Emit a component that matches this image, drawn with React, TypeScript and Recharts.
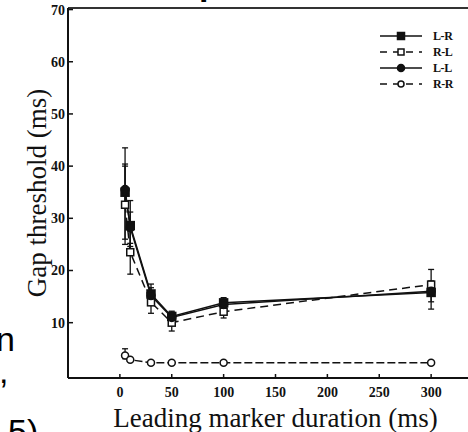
import React from "react";
import { LineChart, Line, XAxis, YAxis, ErrorBar, ReferenceLine } from "recharts";

// leading marker durations (ms)
const durations = [5, 10, 30, 50, 100, 300];

// gap thresholds (ms) per condition, with [below, above] error extents
const lrValues = [35.0, 28.6, 15.5, 11.2, 13.8, 15.8];
const lrErrors = [[3, 5], [4, 4.8], [1.8, 1.9], [1, 1], [0.8, 1], [3.2, 2]];
const rlValues = [32.6, 23.5, 13.9, 10.0, 12.1, 17.3];
const rlErrors = [[6.6, 7.8], [4.2, 4.5], [2.1, 1.5], [1.6, 1], [1.2, 1], [2, 2.9]];
const llValues = [35.5, 28.2, 15.2, 11.0, 13.5, 16.0];
const llErrors = [[10.5, 8], [3, 3], [1.5, 1.5], [1, 1], [1, 1], [2, 2]];
const rrValues = [3.7, 2.9, 2.3, 2.3, 2.3, 2.3];
const rrErrors = [[0.6, 1.3], [0.3, 0.3], [0.2, 0.2], [0.2, 0.2], [0.2, 0.2], [0.2, 0.2]];

const xTicks = [0, 50, 100, 150, 200, 250, 300];
const yTicks = [10, 20, 30, 40, 50, 60, 70];
const X_DOMAIN = [-50, 350];
const Y_DOMAIN = [-0.6, 70.3];

const rows = durations.map((x, i) => ({
  x,
  lr: lrValues[i],
  lrErr: lrErrors[i],
  rl: rlValues[i],
  rlErr: rlErrors[i],
  ll: llValues[i],
  llErr: llErrors[i],
  rr: rrValues[i],
  rrErr: rrErrors[i],
}));

type Shape = "square" | "circle";

const series = [
  { key: "lr", name: "L-R", shape: "square" as Shape, filled: true, dash: undefined },
  { key: "rl", name: "R-L", shape: "square" as Shape, filled: false, dash: "8 5" },
  { key: "ll", name: "L-L", shape: "circle" as Shape, filled: true, dash: undefined },
  { key: "rr", name: "R-R", shape: "circle" as Shape, filled: false, dash: "8 3" },
];

const INK = "#111";
const serif = "'Liberation Serif', 'Times New Roman', serif";

function markerGlyph(shape: Shape, filled: boolean, cx: number, cy: number, size: number) {
  const fill = filled ? INK : "#fff";
  if (shape === "square") {
    return (
      <rect x={cx - size / 2} y={cy - size / 2} width={size} height={size} fill={fill} stroke={INK} strokeWidth={1.5} />
    );
  }
  return <circle cx={cx} cy={cy} r={size / 2} fill={fill} stroke={INK} strokeWidth={1.5} />;
}

const makeDot = (shape: Shape, filled: boolean) => (props: any) => {
  const { cx, cy, index } = props;
  if (cx == null || cy == null) return <g key={index} />;
  return <g key={index}>{markerGlyph(shape, filled, cx, cy, filled ? 8 : 7)}</g>;
};

function LegendBox() {
  return (
    <svg width={92} height={64}>
      {series.map((s, i) => {
        const y = 8 + i * 16;
        return (
          <g key={s.key}>
            <line x1={4} x2={46} y1={y} y2={y} stroke={INK} strokeWidth={1.5} strokeDasharray={s.dash ? "7 6" : undefined} />
            {markerGlyph(s.shape, s.filled, 25, y, s.filled ? 7 : 6)}
            <text x={57} y={y + 4} fontFamily={serif} fontWeight={700} fontSize={12} fill={INK} letterSpacing={-0.4}>
              {s.name}
            </text>
          </g>
        );
      })}
    </svg>
  );
}

const frag: React.CSSProperties = {
  position: "absolute",
  fontFamily: "'Liberation Sans', Arial, sans-serif",
  fontSize: 34,
  lineHeight: 1,
  color: "#000",
  whiteSpace: "nowrap",
};

export default function App() {
  return (
    <div style={{ position: "absolute", left: 0, top: 0, width: 468, height: 432, overflow: "hidden", background: "#fff" }}>
      <LineChart width={500} height={432} data={rows} margin={{ top: 8, right: 17, bottom: 0, left: 0 }}>
        <XAxis
          type="number"
          dataKey="x"
          domain={X_DOMAIN}
          ticks={xTicks}
          allowDataOverflow
          height={54}
          tickSize={-4}
          tickMargin={13}
          axisLine={{ stroke: INK, strokeWidth: 2 }}
          tickLine={{ stroke: INK, strokeWidth: 1.5 }}
          tick={{ fill: INK, fontSize: 14, fontWeight: 700, fontFamily: serif }}
          label={{
            value: "Leading marker duration (ms)",
            position: "insideBottom",
            offset: 5,
            fill: INK,
            fontSize: 27,
            fontFamily: serif,
          }}
        />
        <YAxis
          type="number"
          domain={Y_DOMAIN}
          ticks={yTicks}
          allowDataOverflow
          width={68}
          tickSize={-5}
          tickMargin={8}
          axisLine={{ stroke: INK, strokeWidth: 2 }}
          tickLine={{ stroke: INK, strokeWidth: 1.5 }}
          tick={{ fill: INK, fontSize: 14, fontWeight: 700, fontFamily: serif }}
          label={{
            content: (p: any) => {
              const vb = p.viewBox || { x: 0, y: 8, width: 68, height: 370 };
              const cy = vb.y + vb.height / 2;
              const cx = 46;
              return (
                <text
                  x={cx}
                  y={cy}
                  transform={`rotate(-90 ${cx} ${cy})`}
                  textAnchor="middle"
                  fill={INK}
                  fontSize={27}
                  fontFamily={serif}
                >
                  Gap threshold (ms)
                </text>
              );
            },
          }}
        />
        <ReferenceLine y={Y_DOMAIN[1]} stroke="#333" strokeWidth={2} />
        {series.map((s) => (
          <Line
            key={s.key}
            dataKey={s.key}
            name={s.name}
            type="linear"
            stroke={INK}
            strokeWidth={1.5}
            strokeDasharray={s.dash}
            dot={makeDot(s.shape, s.filled)}
            activeDot={false}
            isAnimationActive={false}
          >
            <ErrorBar dataKey={`${s.key}Err`} direction="y" width={3} stroke={INK} strokeWidth={1.3} />
          </Line>
        ))}
      </LineChart>
      <div style={{ position: "absolute", left: 376, top: 28 }}>
        <LegendBox />
      </div>
      <div style={{ ...frag, left: -4, top: 322 }}>n</div>
      <div style={{ ...frag, left: -1, top: 354 }}>,</div>
      <div style={{ ...frag, left: 8, top: 414 }}>5)</div>
      <div style={{ ...frag, fontWeight: 700, left: 199, top: -34 }}>p</div>
    </div>
  );
}
